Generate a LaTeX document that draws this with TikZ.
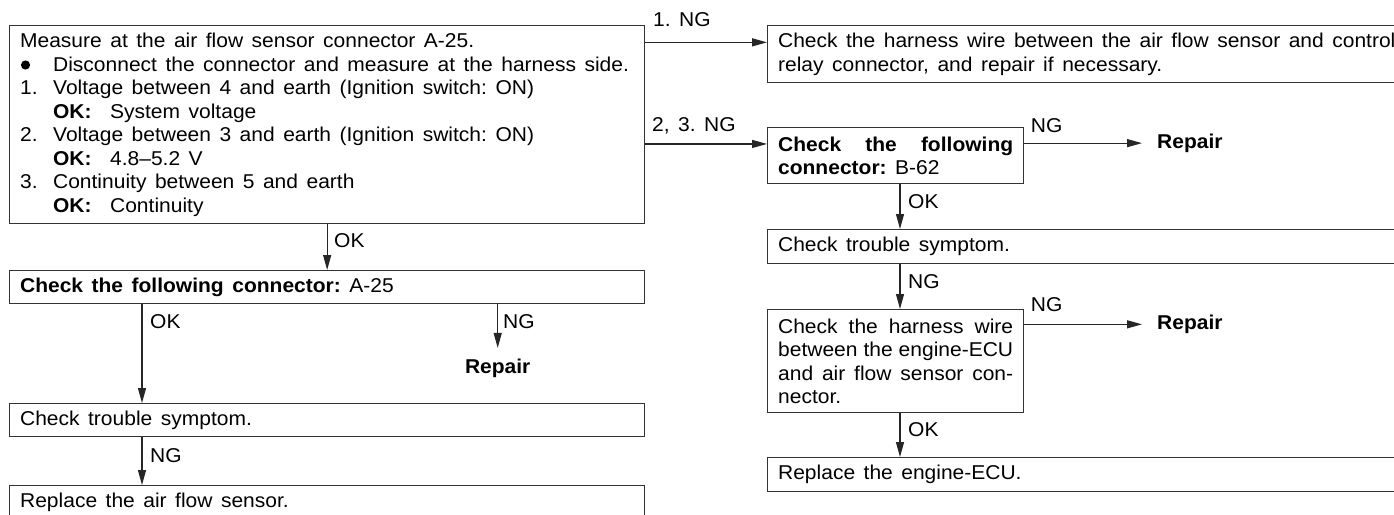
\documentclass[tikz,border=0pt]{standalone}
\usepackage{fontspec}
\setmainfont{Liberation Sans}[FakeStretch=1.05]
\usetikzlibrary{arrows.meta}
\newcommand{\diagfont}{\fontsize{20}{23.5}\selectfont}
\newcommand{\widespaces}{\spaceskip=8.5pt plus 4pt minus 3pt\xspaceskip=8.5pt plus 4pt minus 3pt\relax}
\begin{document}
\begin{tikzpicture}[x=1pt,y=-1pt,
  every node/.style={font=\diagfont, text=black, execute at begin node=\widespaces},
  box/.style={draw=black!80, line width=1.3pt, anchor=north west, inner xsep=10.5pt, inner ysep=0pt, align=left},
  jbox/.style={box, align=justify},
  arr/.style={draw=black!85, line width=1.2pt, -{Triangle[length=15pt,width=8pt]}},
  lbl/.style={anchor=base west, inner sep=0pt},
  rep/.style={font=\diagfont\bfseries, inner xsep=15pt, inner ysep=10.4pt}]
\useasboundingbox (0,0) rectangle (1394,514);
\clip (0,0) rectangle (1394,514);
\fill[white] (0,0) rectangle (1394,514);

% left column
\node[box, text width=614pt, minimum height=198pt] (m) at (9,25) {%
Measure at the air flow sensor connector A-25.\\
\hspace*{33pt}Disconnect the connector and measure at the harness side.\\
\makebox[33pt][l]{1.}Voltage between 4 and earth (Ignition switch: ON)\\
\hspace*{33pt}\makebox[57pt][l]{\bfseries OK:}System voltage\\
\makebox[33pt][l]{2.}Voltage between 3 and earth (Ignition switch: ON)\\
\hspace*{33pt}\makebox[57pt][l]{\bfseries OK:}4.8–5.2 V\\
\makebox[33pt][l]{3.}Continuity between 5 and earth\\
\hspace*{33pt}\makebox[57pt][l]{\bfseries OK:}Continuity};
\fill[black] ([xshift=16.5pt,yshift=-40pt]m.north west) circle (4.6pt);
\node[box, text width=614pt, minimum height=33pt] (c1) at (9,270) {\textbf{Check the following connector:} A-25};
\node[box, text width=614pt, minimum height=33pt] (t1) at (9,403) {Check trouble symptom.};
\node[box, text width=614pt, minimum height=34pt] (s) at (9,485) {Replace the air flow sensor.};
\node[rep, anchor=base] (r0) at (497.7,373) {Repair};

% right column
\node[box, text width=640pt, minimum height=57pt] (h1) at (767,25) {Check the harness wire between the air flow sensor and control\\relay connector, and repair if necessary.};
\node[jbox, text width=235pt, minimum height=56pt] (b62) at (767,127) {{\bfseries Check the following\linebreak connector:} B-62};
\node[box, text width=640pt, minimum height=34pt] (t2) at (767,229) {Check trouble symptom.};
\node[jbox, text width=235pt, minimum height=103pt] (h2) at (767,309) {Check the harness wire\linebreak between the engine-ECU\linebreak and air flow sensor con-\linebreak nector.};
\node[box, text width=640pt, minimum height=34pt] (e) at (767,457) {Replace the engine-ECU.};
\node[rep, anchor=base west] (r1) at (1142,148.3) {Repair};
\node[rep, anchor=base west] (r2) at (1142,329.5) {Repair};

\coordinate (h1in) at ([yshift=11.8pt]h1.west);
\coordinate (b62in) at ([yshift=11.7pt]b62.west);

% connectors
\draw[arr] (m.east |- h1in) -- (h1in);
\draw[arr] (m.east |- b62in) -- (b62in);
\draw[arr] (m.south) -- (c1.north);
\draw[arr] ([xshift=133pt]c1.south west) -- ([xshift=133pt]t1.north west);
\draw[arr] (c1.south -| r0.north) -- (r0.north);
\draw[arr] ([xshift=133pt]t1.south west) -- ([xshift=133pt]s.north west);
\draw[arr] (b62.east |- r1.west) -- (r1.west);
\draw[arr] ([xshift=133pt]b62.south west) -- ([xshift=133pt]t2.north west);
\draw[arr] ([xshift=133pt]t2.south west) -- ([xshift=133pt]h2.north west);
\draw[arr] (h2.east |- r2.west) -- (r2.west);
\draw[arr] ([xshift=133pt]h2.south west) -- ([xshift=133pt]e.north west);

% labels
\node[lbl] (l1) at (653,26.4) {1. NG};
\node[lbl] (l2) at (652,131.7) {2, 3. NG};
\node[lbl] (l3) at (1030.7,132.3) {NG};
\node[lbl] (l4) at (1030.7,311.7) {NG};
\node[lbl] (l5) at (334,247.3) {OK};
\node[lbl] (l6) at (150,328) {OK};
\node[lbl] (l7) at (503,328) {NG};
\node[lbl] (l8) at (150,462.3) {NG};
\node[lbl] (l9) at (908,208.3) {OK};
\node[lbl] (l10) at (908,288.3) {NG};
\node[lbl] (l11) at (908,436) {OK};
\end{tikzpicture}
\end{document}
